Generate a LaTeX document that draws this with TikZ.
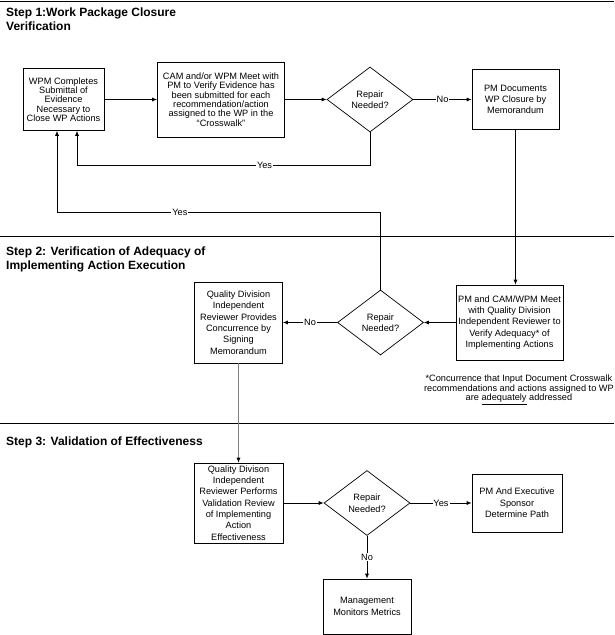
\documentclass[tikz,border=0pt]{standalone}
\usepackage{fontspec}
\setmainfont{Liberation Sans}
\usetikzlibrary{shapes.geometric,arrows.meta}

\begin{document}
\begin{tikzpicture}[x=1pt,y=-1pt,
  box/.style={draw,line width=0.7pt,align=center,inner sep=2pt,font=\fontsize{9.2}{11.3}\selectfont},
  tight/.style={font=\fontsize{9.2}{9.3}\selectfont},
  dec/.style={draw,diamond,line width=0.7pt,align=center,inner sep=0pt,minimum width=86pt,minimum height=65pt,font=\fontsize{9.2}{11.5}\selectfont},
  head/.style={anchor=north west,inner sep=0pt,align=left,font=\fontsize{12}{13.5}\selectfont\bfseries},
  lbl/.style={fill=white,inner sep=1pt,font=\fontsize{9.2}{9.3}\selectfont},
  flow/.style={line width=0.7pt,-{Latex[length=5pt,width=4pt,color=black]}}]
\useasboundingbox (0,0) rectangle (614,635);
\draw[line width=0.8pt] (0,1) -- (614,1) (0,236) -- (614,236) (0,423) -- (614,423);

\node[head] (s1) at (6,8) {Step 1:Work Package Closure\\Verification};
\node[head] (s2) at (6,247) {Step 2: Verification of Adequacy of\\Implementing Action Execution};
\node[head] (s3) at (6,437) {Step 3: Validation of Effectiveness};

\node[box,tight,minimum width=81pt,minimum height=62pt] (wpm) at (63.5,99.5) {WPM Completes\\Submittal of\\Evidence\\Necessary to\\Close WP Actions};
\node[box,tight,minimum width=127pt,minimum height=75pt] (cam) at (221,99.5) {CAM and/or WPM Meet with\\PM to Verify Evidence has\\been submitted for each\\recommendation/action\\assigned to the WP in the\\“Crosswalk”};
\node[dec] (rep1) at (370,99.5) {Repair\\Needed?};
\node[box,minimum width=87pt,minimum height=60pt] (pmdoc) at (515.5,99.5) {PM Documents\\WP Closure by\\Memorandum};

\node[box,minimum width=107pt,minimum height=75pt] (pmcam) at (509.5,322.5) {PM and CAM/WPM Meet\\with Quality Division\\Independent Reviewer to\\Verify Adequacy* of\\Implementing Actions};
\node[dec] (rep2) at (380.5,322.5) {Repair\\Needed?};
\node[box,minimum width=88pt,minimum height=81pt] (qdsign) at (238.5,322.5) {Quality Division\\Independent\\Reviewer Provides\\Concurrence by\\Signing\\Memorandum};
\node[anchor=north east,inner sep=0pt,align=center,font=\fontsize{9.2}{9.3}\selectfont] (note) at (614,375) {*Concurrence that Input Document Crosswalk\\recommendations and actions assigned to WP\\are \underline{adequately} addressed};

\node[box,minimum width=89pt,minimum height=80pt] (qdval) at (238.5,503) {Quality Divison\\Independent\\Reviewer Performs\\Validation Review\\of Implementing\\Action\\Effectiveness};
\node[dec] (rep3) at (367,503) {Repair\\Needed?};
\node[box,minimum width=90pt,minimum height=58pt] (exec) at (517,503) {PM And Executive\\Sponsor\\Determine Path};
\node[box,minimum width=88pt,minimum height=55pt] (mgmt) at (367,606.5) {Management\\Monitors Metrics};

\draw[flow] (wpm) -- (cam);
\draw[flow] (cam) -- (rep1);
\draw[flow] (rep1) -- node[lbl]{No} (pmdoc);
\draw[flow] (rep1.south) -- ++(0,33) -| node[lbl,pos=0.18]{Yes} ([xshift=13.5pt]wpm.south);
\draw[flow] (rep2.north) -- ++(0,-77) -| node[lbl,pos=0.31]{Yes} ([xshift=-6.5pt]wpm.south);
\draw[flow] (pmdoc.south) -- (pmdoc.south |- pmcam.north);
\draw[flow] (pmcam) -- (rep2);
\draw[flow] (rep2) -- node[lbl]{No} (qdsign);
\draw[flow,draw=gray] (qdsign) -- (qdval);
\draw[flow] (qdval) -- (rep3);
\draw[flow] (rep3) -- node[lbl]{Yes} (exec);
\draw[flow] (rep3) -- node[lbl]{No} (mgmt);
\end{tikzpicture}
\end{document}
